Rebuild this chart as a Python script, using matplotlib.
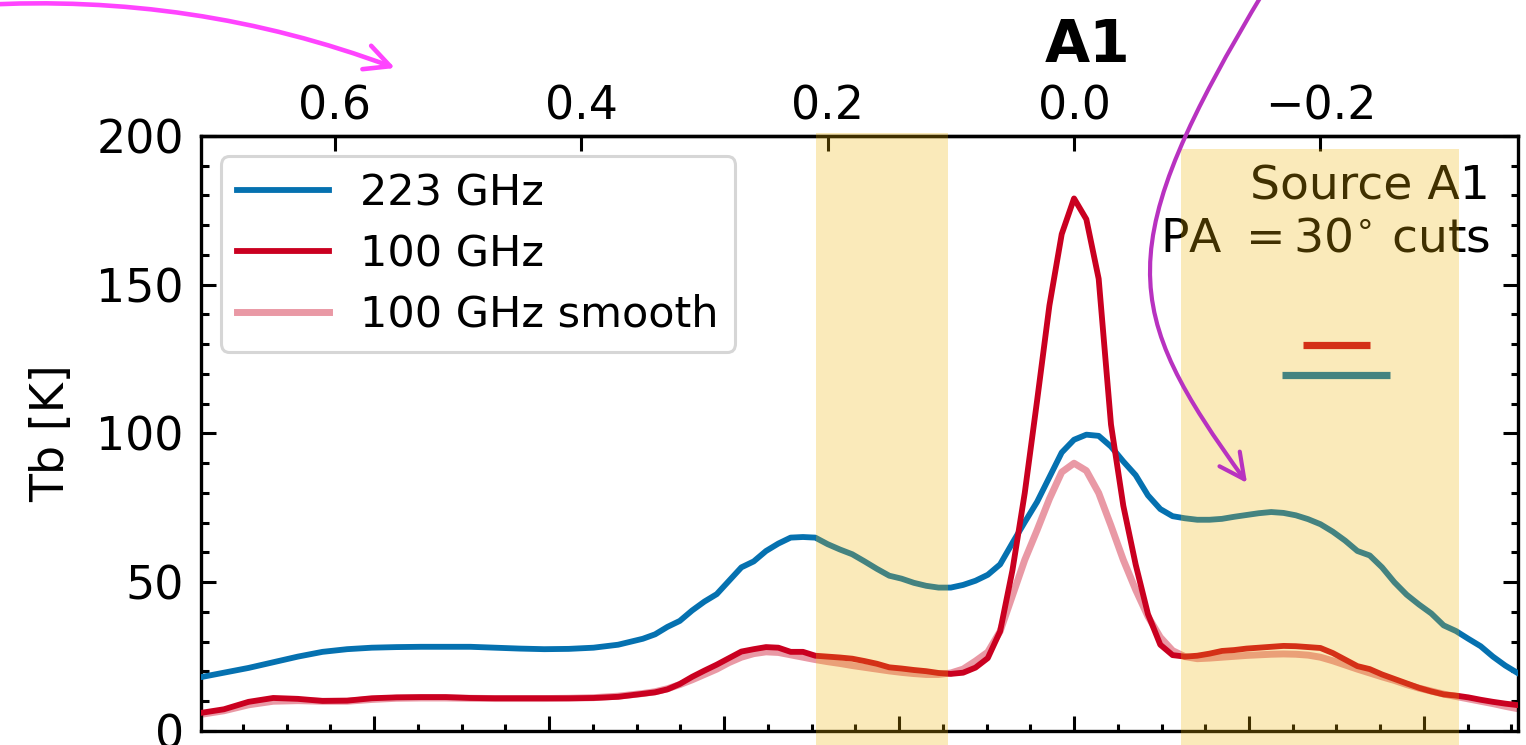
import matplotlib
matplotlib.use("Agg")
import matplotlib.pyplot as plt
from matplotlib.ticker import MultipleLocator, NullLocator
from matplotlib.patches import Rectangle, FancyArrowPatch
from matplotlib.path import Path
from matplotlib.transforms import Affine2D

# offset along the cut (top axis units)
offset = [0.71, 0.69, 0.67, 0.65, 0.63, 0.61, 0.59, 0.57, 0.55, 0.53,
          0.51, 0.49, 0.47, 0.45, 0.43, 0.41, 0.39, 0.37, 0.35,
          0.34, 0.33, 0.32, 0.31, 0.30, 0.29, 0.28, 0.27, 0.26, 0.25,
          0.24, 0.23, 0.22, 0.21, 0.20, 0.19, 0.18, 0.17, 0.16, 0.15,
          0.14, 0.13, 0.12, 0.11, 0.10, 0.09, 0.08, 0.07, 0.06, 0.05,
          0.04, 0.03, 0.02, 0.01, 0.00, -0.01, -0.02, -0.03, -0.04, -0.05,
          -0.06, -0.07, -0.08, -0.09, -0.10, -0.11, -0.12, -0.13, -0.14, -0.15,
          -0.16, -0.17, -0.18, -0.19, -0.20, -0.21, -0.22, -0.23, -0.24, -0.25,
          -0.26, -0.27, -0.28, -0.29, -0.30, -0.31, -0.32, -0.33, -0.34, -0.35,
          -0.36]

tb_223 = [18.0, 19.6, 21.2, 23.1, 25.0, 26.6, 27.5, 28.0, 28.2, 28.3,
          28.3, 28.3, 28.0, 27.7, 27.5, 27.6, 28.0, 29.0, 31.0,
          32.5, 35.0, 37.0, 40.5, 43.5, 46.0, 50.5, 55.0, 57.0, 60.5,
          63.0, 65.0, 65.2, 65.0, 62.8, 61.0, 59.4, 57.0, 54.5, 52.2,
          51.2, 49.8, 48.8, 48.2, 48.2, 49.1, 50.5, 52.5, 56.0, 63.2,
          70.2, 77.0, 85.3, 93.6, 97.9, 99.6, 99.2, 95.6, 90.6, 86.0,
          79.2, 74.6, 72.2, 71.5, 71.0, 71.0, 71.3, 72.0, 72.6, 73.2,
          73.6, 73.3, 72.5, 71.2, 69.5, 67.0, 64.0, 60.5, 59.0, 55.0,
          50.0, 45.8, 42.5, 39.5, 35.5, 33.6, 31.0, 28.5, 25.0, 22.0,
          19.5]

tb_100 = [6.0, 7.3, 9.8, 11.1, 10.8, 10.1, 10.2, 11.0, 11.3, 11.4,
          11.4, 11.1, 11.0, 11.0, 11.0, 11.0, 11.1, 11.5, 12.5,
          13.0, 14.0, 15.8, 18.2, 20.3, 22.3, 24.5, 26.7, 27.5, 28.2,
          28.0, 26.6, 26.6, 25.3, 25.0, 24.7, 24.3, 23.5, 22.6, 21.4,
          21.0, 20.5, 20.1, 19.5, 19.2, 19.6, 21.3, 24.5, 33.5, 54.0,
          80.0, 111.0, 143.0, 167.0, 179.0, 172.0, 152.0, 103.0, 75.7, 56.0,
          39.3, 29.0, 25.5, 25.0, 25.3, 26.0, 26.9, 27.2, 27.7, 28.0,
          28.3, 28.6, 28.5, 28.2, 27.9, 26.2, 24.0, 21.8, 20.8, 19.0,
          17.5, 16.0, 14.5, 13.3, 12.3, 11.9, 11.3, 10.5, 9.8, 9.2,
          8.7]

tb_100_smooth = [5.5, 6.8, 8.8, 10.0, 10.2, 10.0, 10.0, 10.6, 11.0, 11.1,
                 11.1, 11.0, 10.9, 10.9, 10.9, 11.0, 11.2, 11.7, 12.6,
                 13.2, 14.2, 15.6, 17.2, 19.0, 20.8, 23.0, 24.8, 26.0, 26.6,
                 26.4, 25.6, 24.8, 24.0, 23.3, 22.7, 22.0, 21.4, 20.8, 20.2,
                 19.7, 19.3, 19.0, 19.0, 19.5, 20.8, 23.5, 26.5, 33.5, 45.5,
                 57.5, 67.5, 78.0, 87.0, 90.0, 87.5, 80.0, 69.0, 57.5, 47.5,
                 38.5, 31.5, 27.0, 25.0, 24.3, 24.5, 24.8, 25.1, 25.4, 25.6,
                 25.8, 25.9, 25.8, 25.5, 24.8, 23.6, 22.2, 20.8, 19.5, 18.2,
                 17.0, 15.6, 14.4, 13.4, 12.4, 11.6, 10.8, 10.0, 9.2, 8.3,
                 7.5]

# highlighted regions (offset range)
span_lo = [0.1023, -0.3125]
span_hi = [0.2094, -0.0869]
span_top = [201, 195.6]

# beam bars: 100 GHz, 223 GHz
beam_center = -0.213
beam_width = [0.0544, 0.0877]
beam_level = [129.7, 119.7]

blue = "#0571b0"
red = "#ca0020"
fs = 33

fig = plt.figure(figsize=(15.26, 7.45), dpi=100)
ax = fig.add_axes([0.1314, 0.0188, 0.8634, 0.7987])

l_s, = ax.plot(offset, tb_100_smooth, color=red, alpha=0.4, lw=5.0, zorder=2, label="100 GHz smooth")
l_b, = ax.plot(offset, tb_223, color=blue, lw=4.2, zorder=3, label="223 GHz")
l_r, = ax.plot(offset, tb_100, color=red, lw=4.2, zorder=4, label="100 GHz")

for w, lev, c in zip(beam_width, beam_level, [red, blue]):
    ax.plot([beam_center - w / 2, beam_center + w / 2], [lev, lev], color=c, lw=5.2,
            solid_capstyle="butt")

ax.set_xlim(0.709, -0.3604)
ax.set_ylim(0, 200)

for lo, hi, top in zip(span_lo, span_hi, span_top):
    ax.add_patch(Rectangle((lo, -4.7), hi - lo, top + 4.7, color="#f0b400", alpha=0.27,
                           lw=0, zorder=10, clip_on=False))

ax.text(0.9787, 0.952, "Source A1\nPA $=30^{\\circ}$ cuts", transform=ax.transAxes,
        ha="right", va="top", fontsize=34, zorder=3)
ax.text(-0.011, 225, "A1", ha="center", va="baseline", fontsize=42, fontweight="bold")

leg = ax.legend(handles=[l_b, l_r, l_s], loc="upper left", fontsize=31, handlelength=2.14,
                handletextpad=0.72, labelspacing=0.43, borderaxespad=0.47, borderpad=0.38)
leg.get_frame().set_linewidth(2.2)

# ticks
ax.xaxis.set_major_locator(MultipleLocator(0.142))
ax.xaxis.set_minor_locator(MultipleLocator(0.0355))
ax.yaxis.set_major_locator(MultipleLocator(50))
ax.yaxis.set_minor_locator(MultipleLocator(10))
ax.tick_params(which="both", direction="in", right=True, top=False, labelbottom=False,
               width=2.2, labelsize=fs, pad=12)
ax.tick_params(which="major", length=10.8)
ax.tick_params(which="minor", length=5.4)
for s in ax.spines.values():
    s.set_linewidth(2.4)

secax = ax.secondary_xaxis("top")
secax.xaxis.set_major_locator(MultipleLocator(0.2))
secax.xaxis.set_minor_locator(NullLocator())
secax.tick_params(direction="in", length=10.8, width=2.2, labelsize=fs, pad=5)
secax.spines["top"].set_linewidth(2.4)

ax.set_ylabel("Tb [K]", fontsize=fs, labelpad=16)

# arrows, in picture pixels (y down)
pix = Affine2D().scale(1 / 1526, -1 / 745).translate(0, 1) + fig.transFigure
p1 = Path([(-20, 5), (194, -7), (395, 68)], [Path.MOVETO, Path.CURVE3, Path.CURVE3])
p2 = Path([(1266, -12), (1108, 250), (1122, 310), (1247, 483)],
          [Path.MOVETO, Path.CURVE4, Path.CURVE4, Path.CURVE4])
fig.add_artist(FancyArrowPatch(path=p1, arrowstyle="->", mutation_scale=45, color="#ff44ff",
                               lw=3.3, transform=pix))
fig.add_artist(FancyArrowPatch(path=p2, arrowstyle="->", mutation_scale=45, color="#b832c0",
                               lw=3.0, transform=pix))

fig.savefig("out.png", dpi=100)
